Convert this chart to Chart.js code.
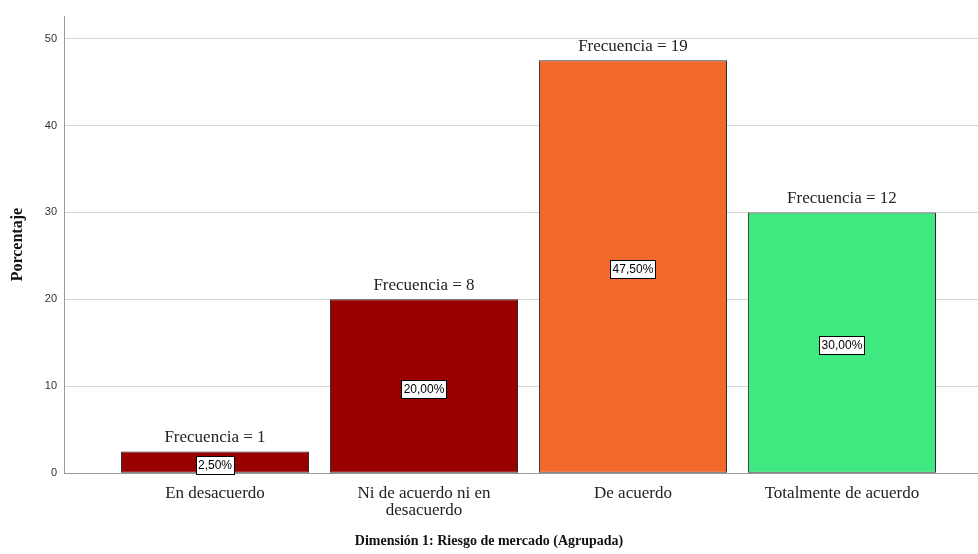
<!DOCTYPE html>
<html>
<head>
<meta charset="utf-8">
<script src="https://cdn.jsdelivr.net/npm/chart.js@4/dist/chart.umd.min.js"></script>
<style>
  body { margin: 0; background: #fff; }
  canvas { display: block; }
</style>
</head>
<body>
<canvas id="chart" width="978" height="554"></canvas>
<script>
// datos
const categories = ["En desacuerdo", ["Ni de acuerdo ni en", "desacuerdo"], "De acuerdo", "Totalmente de acuerdo"];
const percentages = [2.5, 20, 47.5, 30];
const frequencies = [1, 8, 19, 12];
const barColors = ["#990000", "#990000", "#F2692C", "#40E880"];
const yTicks = [0, 10, 20, 30, 40, 50];

const ctx = document.getElementById("chart").getContext("2d");

// etiquetas "Frecuencia = n" y porcentaje en caja blanca
const barLabels = {
  id: "barLabels",
  afterDatasetsDraw(chart) {
    const c = chart.ctx;
    chart.getDatasetMeta(0).data.forEach((bar, i) => {
      c.save();
      c.font = "17px 'Liberation Serif'";
      c.fillStyle = "#222";
      c.textAlign = "center";
      c.textBaseline = "middle";
      c.fillText(`Frecuencia = ${frequencies[i]}`, bar.x, bar.y - 14);

      const txt = percentages[i].toFixed(2).replace(".", ",") + "%";
      c.font = "12px 'Liberation Sans'";
      const w = Math.round(c.measureText(txt).width + 4);
      const h = 18;
      const cy = (bar.y + bar.base) / 2 + 2.5;
      const left = Math.round(bar.x - w / 2) + 0.5;
      const top = Math.round(cy - h / 2) + 0.5;
      c.fillStyle = "#fff";
      c.fillRect(left, top, w, h);
      c.strokeStyle = "#000";
      c.lineWidth = 1;
      c.strokeRect(left, top, w, h);
      c.fillStyle = "#000";
      c.fillText(txt, bar.x, top + h / 2 + 0.5);
      c.restore();
    });
  }
};

new Chart(ctx, {
  type: "bar",
  data: {
    datasets: [{
      data: percentages.map((v, i) => ({ x: i, y: v })),
      backgroundColor: barColors,
      borderColor: "#2a2a2a",
      borderWidth: 1,
      borderSkipped: false,
      barPercentage: 0.9,
      categoryPercentage: 1.0,
    }],
  },
  options: {
    responsive: false,
    animation: false,
    devicePixelRatio: 1,
    layout: { padding: { top: 16, right: 0, left: 0, bottom: 0 } },
    plugins: {
      legend: { display: false },
      tooltip: { enabled: false },
      title: {
        display: true,
        position: "bottom",
        text: "Dimensión 1: Riesgo de mercado (Agrupada)",
        color: "#111",
        font: { family: "'Liberation Serif'", size: 14, weight: "bold" },
        padding: { top: 4, bottom: 4 },
      },
    },
    scales: {
      x: {
        type: "linear",
        offset: false,
        min: -0.7225,
        max: 3.651,
        afterBuildTicks: s => { s.ticks = categories.map((_, i) => ({ value: i })); },
        afterFit: s => { s.height = 56; },
        grid: { display: false, offset: false },
        border: { display: true, color: "#999", width: 1 },
        ticks: {
          autoSkip: false,
          maxRotation: 0,
          padding: 3,
          color: "#222",
          font: { family: "'Liberation Serif'", size: 17, lineHeight: 1.05 },
          callback: v => categories[v] ?? "",
        },
      },
      y: {
        min: 0,
        max: 52.6,
        afterBuildTicks: s => { s.ticks = yTicks.map(v => ({ value: v })); },
        afterFit: s => { s.width = 64; },
        grid: { color: "#d6d6d6", drawTicks: false },
        border: { display: true, color: "#999", width: 1 },
        ticks: {
          padding: 7,
          color: "#333",
          font: { family: "'Liberation Sans'", size: 11 },
        },
        title: {
          display: true,
          text: "Porcentaje",
          color: "#111",
          font: { family: "'Liberation Serif'", size: 16, weight: "bold" },
          padding: { top: 8, bottom: 0 },
        },
      },
    },
  },
  plugins: [barLabels],
});
</script>
</body>
</html>
